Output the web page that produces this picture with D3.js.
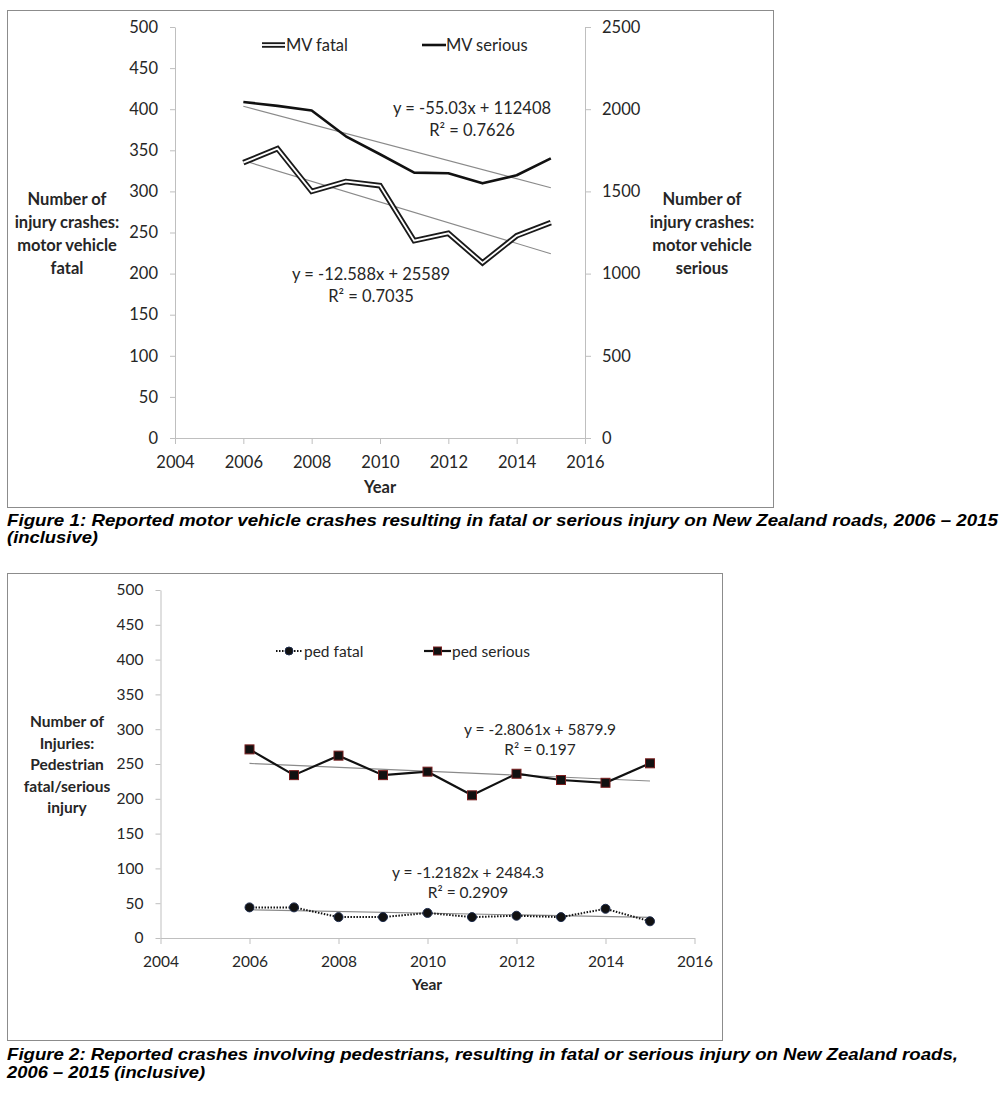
<!DOCTYPE html>
<html>
<head>
<meta charset="utf-8">
<script src="https://cdn.jsdelivr.net/npm/d3@7"></script>
<style>
  body { margin: 0; background: #fff; }
  svg text { font-family: Lato, "Open Sans", sans-serif; fill: #262626; }
  .caption { font-family: "Liberation Sans", Arial, sans-serif !important; font-weight: bold; font-style: italic; fill: #000 !important; }
</style>
</head>
<body>
<svg id="chart" width="1007" height="1094"></svg>
<script>
// data
var years = [2006, 2007, 2008, 2009, 2010, 2011, 2012, 2013, 2014, 2015];
var mvFatal = [335, 352, 300, 312, 307, 240, 249, 213, 246, 262];
var mvSerious = [2044, 2020, 1992, 1835, 1726, 1614, 1610, 1549, 1598, 1701];
var pedFatal = [44, 44, 30, 30, 36, 30, 32, 30, 42, 24];
var pedSerious = [271, 234, 262, 234, 239, 205, 236, 227, 223, 251];

// trend lines from the printed equations
var mvFatalTrend = [-12.588, 25589];
var mvSeriousTrend = [-55.03, 112408];
var pedFatalTrend = [-1.2182, 2484.3];
var pedSeriousTrend = [-2.8061, 5879.9];

var xTicks = [2004, 2006, 2008, 2010, 2012, 2014, 2016];
var leftTicks = [0, 50, 100, 150, 200, 250, 300, 350, 400, 450, 500];
var rightTicks = [0, 500, 1000, 1500, 2000, 2500];

var svg = d3.select("#chart");
svg.append("rect").attr("width", 1007).attr("height", 1094).attr("fill", "#fff");

function trendPts(t) {
  return [years[0], years[years.length - 1]].map(function (yr) {
    return { x: yr, y: t[0] * yr + t[1] };
  });
}

function axisStyle(g) {
  g.selectAll("path, line").attr("stroke", "#bfbfbf").attr("stroke-width", 1);
  g.selectAll("text").attr("fill", "#262626");
}

// ---------- Figure 1 ----------
var f1 = svg.append("g");
f1.append("rect").attr("x", 7.5).attr("y", 10.5).attr("width", 766).attr("height", 497)
  .attr("fill", "none").attr("stroke", "#8c8c8c").attr("stroke-width", 1);

var x1 = d3.scaleLinear().domain([2004, 2016]).range([175, 585]);
var yL = d3.scaleLinear().domain([0, 500]).range([438, 27]);
var yR = d3.scaleLinear().domain([0, 2500]).range([438, 27]);

f1.append("g").attr("transform", "translate(175,0)")
  .call(d3.axisLeft(yL).tickValues(leftTicks).tickSize(5).tickPadding(12).tickSizeOuter(0))
  .call(axisStyle)
  .selectAll("text").style("font-size", "16.5px");
f1.append("g").attr("transform", "translate(585,0)")
  .call(d3.axisRight(yR).tickValues(rightTicks).tickFormat(d3.format("d")).tickSize(6).tickPadding(11).tickSizeOuter(0))
  .call(axisStyle)
  .selectAll("text").style("font-size", "16.5px");
f1.append("g").attr("transform", "translate(0,438)")
  .call(d3.axisBottom(x1).tickValues(xTicks).tickFormat(d3.format("d")).tickSize(6).tickPadding(12).tickSizeOuter(0))
  .call(axisStyle)
  .selectAll("text").style("font-size", "16.5px");

var lineL = d3.line().x(function (d) { return x1(d.x); }).y(function (d) { return yL(d.y); });
var lineR = d3.line().x(function (d) { return x1(d.x); }).y(function (d) { return yR(d.y); });

var fatalPts = years.map(function (yr, i) { return { x: yr, y: mvFatal[i] }; });
var seriousPts = years.map(function (yr, i) { return { x: yr, y: mvSerious[i] }; });

// trend lines
f1.append("path").attr("d", lineL(trendPts(mvFatalTrend)))
  .attr("fill", "none").attr("stroke", "#8a8a8a").attr("stroke-width", 1.1);
f1.append("path").attr("d", lineR(trendPts(mvSeriousTrend)))
  .attr("fill", "none").attr("stroke", "#8a8a8a").attr("stroke-width", 1.1);

// MV fatal: double line
f1.append("path").attr("d", lineL(fatalPts)).attr("fill", "none")
  .attr("stroke", "#1a1a1a").attr("stroke-width", 5.5).attr("stroke-linejoin", "miter");
f1.append("path").attr("d", lineL(fatalPts)).attr("fill", "none")
  .attr("stroke", "#fff").attr("stroke-width", 1.8).attr("stroke-linejoin", "miter");
// MV serious
f1.append("path").attr("d", lineR(seriousPts)).attr("fill", "none")
  .attr("stroke", "#111").attr("stroke-width", 2.6).attr("stroke-linejoin", "round");

// legend
f1.append("line").attr("x1", 262).attr("x2", 285).attr("y1", 45).attr("y2", 45)
  .attr("stroke", "#1a1a1a").attr("stroke-width", 5.5);
f1.append("line").attr("x1", 262).attr("x2", 285).attr("y1", 45).attr("y2", 45)
  .attr("stroke", "#fff").attr("stroke-width", 1.8);
f1.append("text").attr("x", 286).attr("y", 51).style("font-size", "16.5px").text("MV fatal");
f1.append("line").attr("x1", 422).attr("x2", 446).attr("y1", 45).attr("y2", 45)
  .attr("stroke", "#111").attr("stroke-width", 2.6);
f1.append("text").attr("x", 446).attr("y", 51).style("font-size", "16.5px").text("MV serious");

// equations
function eq(g, x, y, lines, size, gap) {
  lines.forEach(function (s, i) {
    g.append("text").attr("x", x).attr("y", y + i * gap).attr("text-anchor", "middle")
      .style("font-size", size).text(s);
  });
}
eq(f1, 472, 114, ["y = -55.03x + 112408", "R² = 0.7626"], "16.5px", 22);
eq(f1, 371, 280, ["y = -12.588x + 25589", "R² = 0.7035"], "16.5px", 22);

// axis titles
function title(g, x, y, lines, size, gap) {
  lines.forEach(function (s, i) {
    g.append("text").attr("x", x).attr("y", y + i * gap).attr("text-anchor", "middle")
      .style("font-size", size).style("font-weight", "bold").text(s);
  });
}
title(f1, 67, 205, ["Number of", "injury crashes:", "motor vehicle", "fatal"], "16.5px", 23);
title(f1, 702, 205, ["Number of", "injury crashes:", "motor vehicle", "serious"], "16.5px", 23);
title(f1, 380, 493, ["Year"], "16.5px", 0);

function caption(x, y, len, s) {
  svg.append("text").attr("class", "caption").attr("x", x).attr("y", y)
    .attr("textLength", len).attr("lengthAdjust", "spacingAndGlyphs").style("font-size", "17px")
    .text(s);
}
caption(7, 526, 991, "Figure 1: Reported motor vehicle crashes resulting in fatal or serious injury on New Zealand roads, 2006 \u2013 2015");
caption(7, 543, 91, "(inclusive)");

// ---------- Figure 2 ----------
var f2 = svg.append("g");
f2.append("rect").attr("x", 7.5).attr("y", 573.5).attr("width", 715).attr("height", 467)
  .attr("fill", "none").attr("stroke", "#8c8c8c").attr("stroke-width", 1);

var x2 = d3.scaleLinear().domain([2004, 2016]).range([160.5, 694.5]);
var y2 = d3.scaleLinear().domain([0, 500]).range([938, 590]);

f2.append("g").attr("transform", "translate(160.5,0)")
  .call(d3.axisLeft(y2).tickValues(leftTicks).tickSize(5).tickPadding(12).tickSizeOuter(0))
  .call(axisStyle)
  .selectAll("text").style("font-size", "15.5px");
f2.append("g").attr("transform", "translate(0,938)")
  .call(d3.axisBottom(x2).tickValues(xTicks).tickFormat(d3.format("d")).tickSize(6).tickPadding(12).tickSizeOuter(0))
  .call(axisStyle)
  .selectAll("text").style("font-size", "15.5px");

var line2 = d3.line().x(function (d) { return x2(d.x); }).y(function (d) { return y2(d.y); });
var pfPts = years.map(function (yr, i) { return { x: yr, y: pedFatal[i] }; });
var psPts = years.map(function (yr, i) { return { x: yr, y: pedSerious[i] }; });

f2.append("path").attr("d", line2(trendPts(pedSeriousTrend)))
  .attr("fill", "none").attr("stroke", "#8a8a8a").attr("stroke-width", 1.1);
f2.append("path").attr("d", line2(trendPts(pedFatalTrend)))
  .attr("fill", "none").attr("stroke", "#8a8a8a").attr("stroke-width", 1.1);

f2.append("path").attr("d", line2(psPts)).attr("fill", "none")
  .attr("stroke", "#111").attr("stroke-width", 2.2);
f2.append("path").attr("d", line2(pfPts)).attr("fill", "none")
  .attr("stroke", "#111").attr("stroke-width", 2).attr("stroke-dasharray", "1.5,1.5");

f2.selectAll("rect.sq").data(psPts).enter().append("rect").attr("class", "sq")
  .attr("x", function (d) { return x2(d.x) - 4.5; })
  .attr("y", function (d) { return y2(d.y) - 4.5; })
  .attr("width", 9).attr("height", 9)
  .attr("fill", "#111").attr("stroke", "#7b2020").attr("stroke-width", 1);
f2.selectAll("circle.dot").data(pfPts).enter().append("circle").attr("class", "dot")
  .attr("cx", function (d) { return x2(d.x); })
  .attr("cy", function (d) { return y2(d.y); })
  .attr("r", 4.5)
  .attr("fill", "#111").attr("stroke", "#1f2d4d").attr("stroke-width", 1);

// legend
f2.append("line").attr("x1", 276).attr("x2", 302).attr("y1", 651).attr("y2", 651)
  .attr("stroke", "#111").attr("stroke-width", 2).attr("stroke-dasharray", "1.5,1.5");
f2.append("circle").attr("cx", 289).attr("cy", 651).attr("r", 4)
  .attr("fill", "#111").attr("stroke", "#1f2d4d");
f2.append("text").attr("x", 304).attr("y", 657).style("font-size", "15.5px").text("ped fatal");
f2.append("line").attr("x1", 424).attr("x2", 451).attr("y1", 651).attr("y2", 651)
  .attr("stroke", "#111").attr("stroke-width", 2.2);
f2.append("rect").attr("x", 433.5).attr("y", 647).attr("width", 8).attr("height", 8)
  .attr("fill", "#111").attr("stroke", "#7b2020");
f2.append("text").attr("x", 452).attr("y", 657).style("font-size", "15.5px").text("ped serious");

eq(f2, 540, 735, ["y = -2.8061x + 5879.9", "R² = 0.197"], "15.5px", 20);
eq(f2, 468, 878, ["y = -1.2182x + 2484.3", "R² = 0.2909"], "15.5px", 20);

title(f2, 67, 727, ["Number of", "Injuries:", "Pedestrian", "fatal/serious", "injury"], "15.5px", 21.5);
title(f2, 427, 990, ["Year"], "15.5px", 0);

caption(7, 1060, 951, "Figure 2: Reported crashes involving pedestrians, resulting in fatal or serious injury on New Zealand roads,");
caption(7, 1078, 198, "2006 \u2013 2015 (inclusive)");
</script>
</body>
</html>
